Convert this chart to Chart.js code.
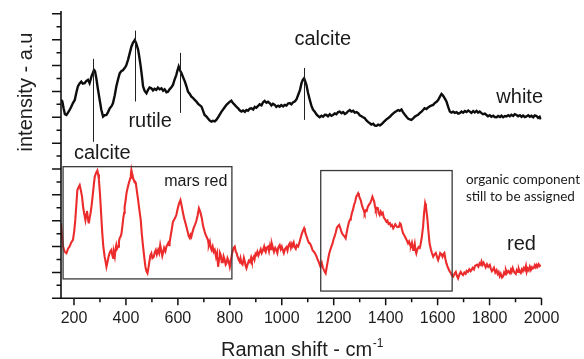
<!DOCTYPE html>
<html><head><meta charset="utf-8">
<script src="https://cdn.jsdelivr.net/npm/chart.js@4/dist/chart.umd.min.js"></script>
<style>html,body{margin:0;padding:0;background:#fff}canvas{display:block}</style>
</head><body>
<canvas id="c" width="584" height="359"></canvas>
<script>
// ---- data (Raman shift in cm-1, intensity in axis-tick units) ----
const whiteShift = [
150,155,160,165,171,177,183,189,196,203,
209,215,221,228,234,241,247,254,260,264,
267,272,277,281,286,292,299,305,312,318,
325,331,338,344,350,357,363,370,376,382,
388,395,401,408,414,421,427,434,440,447,
452,457,462,466,472,479,485,491,498,504,
510,517,523,530,537,543,549,556,562,568,
575,581,587,594,598,603,608,614,620,627,
633,639,646,652,659,665,672,678,685,691,
697,703,710,716,722,729,735,742,748,755,
761,768,774,781,787,794,800,806,812,819,
825,832,838,845,851,858,864,870,877,883,
890,896,902,909,915,922,928,934,941,947,
954,960,966,973,979,986,992,998,1005,1011,
1018,1024,1031,1037,1044,1050,1057,1063,1070,1076,
1081,1086,1090,1095,1101,1108,1114,1120,1127,1133,
1140,1146,1153,1159,1166,1172,1178,1185,1191,1197,
1204,1210,1217,1223,1230,1236,1243,1249,1255,1262,
1268,1275,1281,1288,1294,1300,1307,1313,1319,1326,
1332,1339,1345,1352,1358,1365,1371,1378,1385,1391,
1397,1403,1409,1416,1422,1427,1435,1442,1448,1454,
1461,1466,1474,1481,1487,1493,1499,1506,1512,1516,
1525,1531,1538,1544,1550,1557,1566,1573,1583,1589,
1596,1602,1608,1615,1620,1624,1628,1634,1640,1647,
1653,1660,1666,1673,1679,1685,1692,1698,1705,1711,
1718,1724,1730,1737,1743,1750,1756,1762,1769,1775,
1782,1788,1794,1801,1807,1814,1820,1827,1833,1840,
1846,1852,1859,1865,1872,1878,1884,1891,1897,1904,
1910,1917,1923,1929,1936,1942,1949,1955,1961,1968,
1974,1981,1987,1993,1997];
const whiteIntensity = [
7.67,7.62,7.35,7.12,7.09,7.18,7.28,7.40,7.55,7.67,
7.95,8.19,8.30,8.38,8.30,8.32,8.40,8.45,8.32,8.45,
8.57,8.70,8.83,8.78,8.51,8.10,7.67,7.30,7.03,7.08,
7.09,7.20,7.35,7.42,7.54,7.85,8.19,8.48,8.70,8.78,
8.82,8.90,9.00,9.22,9.45,9.73,9.88,9.99,9.85,9.61,
9.30,8.96,8.55,8.19,8.02,7.93,8.06,8.15,8.12,8.04,
8.10,8.06,8.15,8.08,8.12,8.03,8.08,7.97,7.99,8.08,
8.16,8.25,8.45,8.64,8.80,8.96,8.82,8.70,8.55,8.38,
8.20,7.99,7.90,7.80,7.74,7.67,7.60,7.52,7.46,7.41,
7.25,7.09,7.03,6.95,6.88,6.83,6.86,6.84,6.90,7.00,
7.10,7.22,7.30,7.40,7.48,7.55,7.60,7.64,7.55,7.48,
7.41,7.35,7.27,7.22,7.26,7.21,7.28,7.25,7.34,7.35,
7.30,7.40,7.37,7.44,7.50,7.46,7.58,7.63,7.56,7.60,
7.54,7.46,7.52,7.48,7.40,7.45,7.41,7.47,7.42,7.48,
7.45,7.53,7.55,7.50,7.58,7.61,7.70,7.86,8.05,8.32,
8.45,8.51,8.40,8.25,7.95,7.67,7.45,7.30,7.22,7.12,
7.05,7.00,7.06,7.02,7.10,7.09,7.04,7.12,7.06,7.09,
7.15,7.12,7.20,7.22,7.16,7.20,7.13,7.16,7.23,7.28,
7.22,7.25,7.18,7.20,7.16,7.08,7.04,7.00,6.97,6.88,
6.82,6.77,6.72,6.75,6.68,6.67,6.72,6.69,6.74,6.80,
6.86,6.92,6.96,7.02,7.08,7.13,7.20,7.24,7.28,7.25,
7.30,7.21,7.10,7.01,6.94,6.92,6.90,6.96,7.02,7.05,
7.10,7.16,7.22,7.28,7.35,7.32,7.40,7.44,7.48,7.55,
7.60,7.67,7.78,7.90,7.85,7.79,7.72,7.61,7.42,7.22,
7.18,7.22,7.17,7.20,7.14,7.16,7.22,7.18,7.24,7.20,
7.26,7.22,7.17,7.24,7.19,7.25,7.18,7.22,7.16,7.12,
7.14,7.09,7.04,7.08,7.02,7.06,7.01,7.00,7.05,7.01,
7.06,7.00,7.05,7.03,7.08,7.04,7.10,7.05,7.12,7.09,
7.04,7.08,7.02,7.07,7.01,7.03,7.08,7.02,7.06,7.00,
7.07,7.05,6.98,7.02,6.92];
const redShift = [
150,154,158,164,171,177,183,189,196,201,
205,209,213,218,222,226,231,235,239,244,
247,250,254,257,261,264,268,273,277,280,
285,290,293,296,300,303,306,309,313,318,
322,325,330,334,339,344,348,351,354,357,
360,363,366,370,373,376,380,383,387,390,
393,395,399,402,406,411,414,417,419,421,
424,426,428,430,434,438,442,447,452,457,
461,466,471,475,479,483,487,490,494,498,
502,507,511,515,519,524,528,532,536,540,
544,547,552,556,560,563,566,568,572,577,
581,586,590,594,599,604,610,615,620,624,
628,633,637,642,646,649,652,656,661,666,
671,676,681,686,692,697,703,707,711,716,
719,723,727,730,734,738,742,747,751,755,
759,762,765,769,773,776,780,784,787,791,
795,800,804,808,812,815,819,823,826,830,
834,838,841,845,849,854,858,861,864,868,
873,877,882,885,888,892,895,899,902,906,
910,915,919,923,928,932,935,938,942,947,
951,955,959,962,966,970,975,979,983,987,
992,996,1000,1004,1008,1013,1018,1022,1026,1031,
1035,1039,1042,1046,1050,1054,1058,1063,1069,1073,
1077,1081,1086,1089,1092,1096,1100,1104,1109,1114,
1119,1124,1129,1134,1138,1142,1146,1149,1154,1158,
1162,1166,1169,1173,1178,1182,1186,1191,1195,1200,
1204,1208,1212,1217,1221,1226,1231,1236,1241,1246,
1250,1255,1259,1263,1266,1270,1274,1278,1283,1287,
1291,1294,1297,1300,1304,1307,1310,1314,1317,1319,
1323,1327,1331,1336,1341,1345,1349,1352,1356,1359,
1362,1366,1370,1373,1377,1381,1385,1389,1393,1398,
1403,1407,1411,1416,1420,1424,1429,1433,1437,1441,
1445,1451,1455,1458,1462,1467,1471,1477,1481,1486,
1490,1494,1497,1501,1506,1509,1512,1515,1518,1522,
1527,1531,1534,1539,1544,1548,1552,1555,1558,1561,
1565,1569,1574,1578,1583,1588,1593,1597,1602,1606,
1610,1614,1619,1622,1626,1630,1634,1640,1647,1651,
1655,1660,1665,1670,1674,1679,1684,1689,1693,1698,
1703,1708,1712,1717,1722,1727,1730,1735,1740,1744,
1747,1752,1757,1762,1766,1769,1773,1777,1781,1785,
1790,1795,1801,1805,1809,1812,1817,1822,1827,1831,
1835,1839,1843,1848,1852,1856,1860,1863,1867,1872,
1878,1882,1885,1889,1893,1897,1901,1905,1910,1913,
1916,1920,1924,1928,1932,1936,1940,1943,1947,1951,
1955,1959,1963,1966,1970,1974,1978,1981,1985,1989,
1993,1997];
const redIntensity = [
2.90,2.40,2.00,1.80,1.74,1.92,2.00,2.15,2.26,2.60,
3.03,3.60,4.19,4.30,4.38,4.20,3.93,3.55,3.29,3.03,
3.25,3.38,3.05,2.90,3.15,3.30,3.60,4.06,4.45,4.70,
4.85,4.94,4.80,4.58,4.05,3.54,3.00,2.51,2.00,1.61,
1.40,1.22,1.45,1.64,1.80,1.87,1.65,1.56,1.75,1.61,
1.90,2.06,1.92,2.00,2.20,2.33,2.40,2.51,2.85,3.11,
3.30,3.54,3.80,4.06,4.25,4.45,4.55,4.65,4.80,4.96,
4.80,4.73,4.62,4.58,4.52,4.46,4.15,3.80,3.40,3.03,
2.50,2.00,1.55,1.22,1.05,0.97,1.20,1.40,1.65,1.74,
1.55,1.60,1.78,1.87,1.70,1.87,1.75,2.06,1.85,1.64,
1.80,1.95,1.82,2.00,2.08,2.14,2.05,2.13,2.40,2.70,
2.96,3.05,3.12,3.22,3.45,3.65,3.80,3.55,3.29,3.10,
2.95,2.77,2.60,2.40,2.33,2.45,2.38,2.55,2.72,2.85,
2.99,3.20,3.48,3.35,3.11,2.80,2.58,2.45,2.37,2.25,
2.05,2.19,1.95,1.87,2.00,1.80,1.87,1.60,1.75,1.22,
1.55,1.75,1.68,1.40,1.40,1.62,1.50,1.30,1.35,1.55,
1.45,1.22,1.45,1.70,1.87,1.95,2.00,1.80,1.75,1.61,
1.50,1.42,1.55,1.35,1.30,1.56,1.40,1.25,1.16,1.30,
1.45,1.40,1.58,1.45,1.52,1.60,1.50,1.72,1.68,1.80,
1.66,1.79,1.90,1.75,1.87,2.00,1.85,1.79,1.95,2.00,
1.82,2.05,1.90,2.10,1.95,1.80,1.95,1.87,1.75,1.98,
2.06,1.90,2.00,1.87,1.75,1.92,1.98,1.85,2.05,2.13,
1.95,2.10,2.02,2.15,1.98,1.91,2.05,2.00,2.19,2.35,
2.49,2.60,2.71,2.62,2.49,2.38,2.26,2.15,2.12,2.00,
1.85,1.80,1.72,1.61,1.50,1.42,1.30,1.22,1.37,1.20,
1.10,1.02,0.97,1.20,1.48,1.70,1.85,2.00,2.10,2.30,
2.41,2.55,2.72,2.80,2.84,2.70,2.53,2.45,2.40,2.32,
2.55,2.80,2.96,3.05,3.11,3.30,3.42,3.60,3.75,3.93,
4.00,4.06,3.98,3.88,3.80,3.67,3.55,3.45,3.35,3.29,
3.40,3.38,3.53,3.62,3.69,3.80,3.93,3.85,3.73,3.55,
3.42,3.50,3.49,3.30,3.22,3.35,3.25,3.30,3.12,3.05,
2.96,3.00,2.88,2.91,2.80,2.84,2.71,2.78,2.86,2.80,
2.75,2.76,2.90,2.87,2.70,2.51,2.45,2.33,2.25,2.13,
2.20,2.05,2.02,2.15,1.87,1.95,2.10,1.85,1.74,1.90,
1.98,1.95,2.06,2.35,2.77,3.30,3.67,3.55,3.30,3.03,
2.55,2.13,1.90,1.75,1.61,1.70,1.75,1.62,1.48,1.60,
1.75,1.71,1.61,1.70,1.75,1.52,1.35,1.18,1.03,0.98,
0.88,0.84,0.95,1.02,0.88,0.77,0.92,1.02,0.95,0.90,
1.00,0.95,1.06,1.02,1.12,1.05,1.09,1.18,1.12,1.25,
1.25,1.30,1.22,1.35,1.30,1.42,1.30,1.38,1.29,1.20,
1.32,1.22,1.29,1.15,1.05,1.09,1.18,1.00,1.09,0.95,
1.02,0.86,0.95,0.80,0.84,1.00,0.92,1.09,0.98,1.05,
0.97,1.10,1.02,1.17,1.05,0.98,0.94,1.10,1.02,1.12,
1.03,0.98,1.12,1.05,1.17,1.10,1.25,1.02,1.15,1.08,
1.22,1.10,1.20,1.15,1.17,1.28,1.20,1.29,1.22,1.32,
1.25,1.29];

const xMajorTicks = [200,400,600,800,1000,1200,1400,1600,1800,2000];
const xMinorTicks = [300,500,700,900,1100,1300,1500,1700,1900];
const yMajorTicks = [0,1,2,3,4,5,6,7,8,9,10,11];
const yMinorTicks = [0.5,1.5,2.5,3.5,4.5,5.5,6.5,7.5,8.5,9.5,10.5];
const xAxisTitle = 'Raman shift - cm';
const xAxisTitleSup = '-1';
const yAxisTitle = 'intensity - a.u';

// annotations (data coordinates)
const peakMarkers = [
  {x: 275, from: 6.05, to: 9.26},
  {x: 433, from: 7.61, to: 10.35},
  {x: 607, from: 7.17, to: 9.49},
  {x: 1084, from: 6.90, to: 8.91}
];
const peakLabels = [
  {text: 'calcite', x: 309, y: 5.39},
  {text: 'rutile', x: 493, y: 6.64},
  {text: 'calcite', x: 1158, y: 9.80},
  {text: 'white', x: 1916, y: 7.57},
  {text: 'red', x: 1923, y: 1.87}
];
const regionBoxes = [
  {x0: 158, x1: 808, y0: 0.75, y1: 5.09},
  {x0: 1150, x1: 1656, y0: 0.28, y1: 4.94}
];
const boxLabels = [
  {text: 'mars red', x: 669, y: 4.34, size: 16, align: 'center', family: '"Liberation Sans", Arial, sans-serif'},
  {text: 'organic component', x: 1709, y: 4.42, size: 13.5, align: 'left', family: 'Lato, "Open Sans", sans-serif'},
  {text: 'still to be assigned', x: 1709, y: 3.78, size: 13.5, align: 'left', family: 'Lato, "Open Sans", sans-serif'}
];

const SANS = '"Liberation Sans", Arial, sans-serif';

const overlay = {
  id: 'overlay',
  afterDraw(chart) {
    const {ctx, chartArea: a, scales: {x, y}} = chart;
    ctx.save();
    // region boxes
    ctx.strokeStyle = '#3a3a3a';
    ctx.lineWidth = 1.3;
    regionBoxes.forEach(b => {
      const l = x.getPixelForValue(b.x0), r = x.getPixelForValue(b.x1);
      const t = y.getPixelForValue(b.y1), bt = y.getPixelForValue(b.y0);
      ctx.strokeRect(l, t, r - l, bt - t);
    });
    // peak marker lines
    ctx.strokeStyle = '#222';
    ctx.lineWidth = 1;
    peakMarkers.forEach(m => {
      const px = Math.round(x.getPixelForValue(m.x)) + 0.5;
      ctx.beginPath();
      ctx.moveTo(px, y.getPixelForValue(m.from));
      ctx.lineTo(px, y.getPixelForValue(m.to));
      ctx.stroke();
    });
    // axes lines
    ctx.strokeStyle = '#111';
    ctx.lineWidth = 1.6;
    ctx.beginPath();
    ctx.moveTo(a.left, a.top);
    ctx.lineTo(a.left, a.bottom);
    ctx.lineTo(a.right, a.bottom);
    ctx.stroke();
    // y ticks
    ctx.lineWidth = 1.5;
    ctx.beginPath();
    yMajorTicks.forEach(v => { const py = y.getPixelForValue(v); ctx.moveTo(a.left - 9, py); ctx.lineTo(a.left, py); });
    yMinorTicks.forEach(v => { const py = y.getPixelForValue(v); ctx.moveTo(a.left - 4.5, py); ctx.lineTo(a.left, py); });
    // x ticks
    xMajorTicks.forEach(v => { const px = x.getPixelForValue(v); ctx.moveTo(px, a.bottom); ctx.lineTo(px, a.bottom + 7); });
    xMinorTicks.forEach(v => { const px = x.getPixelForValue(v); ctx.moveTo(px, a.bottom); ctx.lineTo(px, a.bottom + 4); });
    ctx.stroke();
    // x tick labels
    ctx.fillStyle = '#1e1e1e';
    ctx.font = '16px ' + SANS;
    ctx.textAlign = 'center';
    ctx.textBaseline = 'middle';
    xMajorTicks.forEach(v => ctx.fillText(String(v), x.getPixelForValue(v), a.bottom + 20));
    // x axis title with superscript
    ctx.textAlign = 'left';
    ctx.textBaseline = 'alphabetic';
    ctx.font = '20px ' + SANS;
    const tx = 221, ty = 356;
    ctx.fillText(xAxisTitle, tx, ty);
    const w = ctx.measureText(xAxisTitle).width;
    ctx.font = '12px ' + SANS;
    ctx.fillText(xAxisTitleSup, tx + w + 0.5, ty - 9);
    // y axis title
    ctx.save();
    ctx.translate(26, 92);
    ctx.rotate(-Math.PI / 2);
    ctx.font = '20px ' + SANS;
    ctx.textAlign = 'center';
    ctx.textBaseline = 'middle';
    ctx.fillText(yAxisTitle, 0, 0);
    ctx.restore();
    // peak labels
    ctx.font = '20px ' + SANS;
    ctx.textAlign = 'center';
    ctx.textBaseline = 'alphabetic';
    ctx.fillStyle = '#1a1a1a';
    peakLabels.forEach(l => ctx.fillText(l.text, x.getPixelForValue(l.x), y.getPixelForValue(l.y)));
    boxLabels.forEach(l => {
      ctx.font = l.size + 'px ' + l.family;
      ctx.textAlign = l.align;
      ctx.fillText(l.text, x.getPixelForValue(l.x), y.getPixelForValue(l.y));
    });
    ctx.restore();
  }
};

new Chart(document.getElementById('c'), {
  type: 'line',
  data: {
    datasets: [
      {label: 'white', data: whiteShift.map((v, i) => ({x: v, y: whiteIntensity[i]})),
       borderColor: '#0d0d0d', borderWidth: 2.4, pointRadius: 0, tension: 0, fill: false},
      {label: 'red', data: redShift.map((v, i) => ({x: v, y: redIntensity[i]})),
       borderColor: '#ec2c2c', borderWidth: 2.1, pointRadius: 0, tension: 0, fill: false}
    ]
  },
  options: {
    responsive: false,
    animation: false,
    devicePixelRatio: 1,
    layout: {padding: {left: 61, right: 42.5, top: 11, bottom: 60.7}},
    plugins: {legend: {display: false}, tooltip: {enabled: false}},
    scales: {
      x: {type: 'linear', min: 150, max: 2000, display: false},
      y: {type: 'linear', min: 0, max: 11.11, display: false}
    }
  },
  plugins: [overlay]
});
</script>
</body></html>
